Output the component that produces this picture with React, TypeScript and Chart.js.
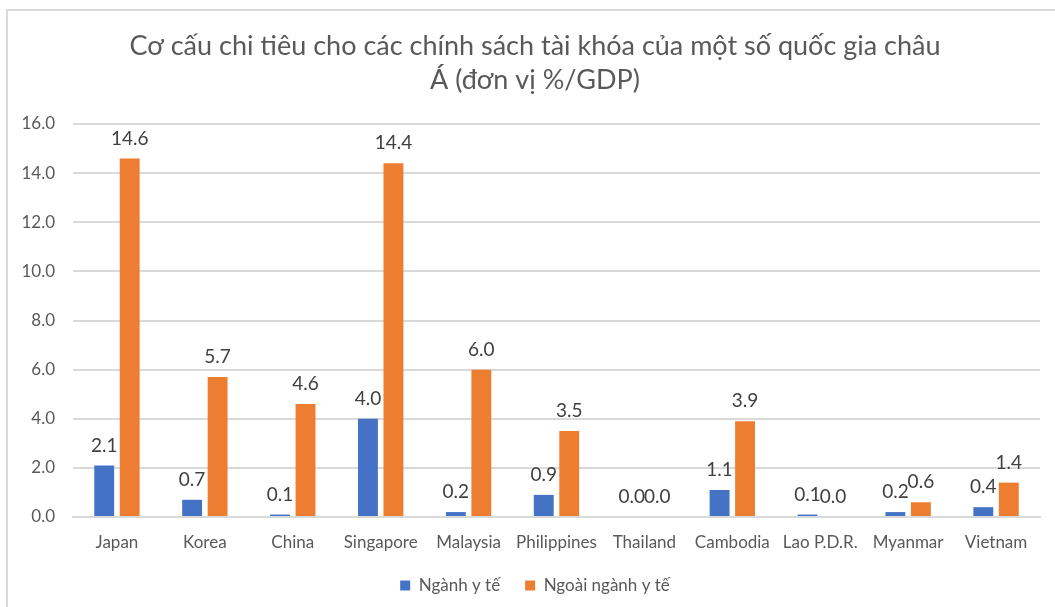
import React, { useEffect, useRef } from "react";
import { Chart, registerables } from "chart.js";

Chart.register(...registerables);

const categories = [
  "Japan",
  "Korea",
  "China",
  "Singapore",
  "Malaysia",
  "Philippines",
  "Thailand",
  "Cambodia",
  "Lao P.D.R.",
  "Myanmar",
  "Vietnam",
];
const healthValues = [2.1, 0.7, 0.1, 4.0, 0.2, 0.9, 0.0, 1.1, 0.1, 0.2, 0.4];
const nonHealthValues = [14.6, 5.7, 4.6, 14.4, 6.0, 3.5, 0.0, 3.9, 0.0, 0.6, 1.4];
const seriesNames = ["Ngành y tế", "Ngoài ngành y tế"];
const titleLines = [
  "Cơ cấu chi tiêu cho các chính sách tài khóa của một số quốc gia châu",
  "Á (đơn vị %/GDP)",
];
const yMin = 0;
const yMax = 16;
const yStep = 2;

const FONT = "Lato, 'Noto Sans', sans-serif";
const TICK_SIZE = 17;

const valueLabels = {
  id: "valueLabels",
  afterDatasetsDraw(chart: any) {
    const ctx = chart.ctx;
    ctx.save();
    ctx.font = `19px ${FONT}`;
    ctx.fillStyle = "#404040";
    ctx.textAlign = "center";
    ctx.textBaseline = "middle";
    chart.data.datasets.forEach((ds: any, di: number) => {
      const meta = chart.getDatasetMeta(di);
      meta.data.forEach((el: any, i: number) => {
        const v = ds.data[i];
        ctx.fillText(Number(v).toFixed(1), el.x, el.y - 20);
      });
    });
    ctx.restore();
  },
};

export default function App() {
  const ref = useRef<HTMLCanvasElement | null>(null);
  useEffect(() => {
    if (!ref.current) return;
    const mctx = document.createElement("canvas").getContext("2d")!;
    mctx.font = `${TICK_SIZE}px ${FONT}`;
    let widest = 0;
    for (let v = yMin; v <= yMax; v += yStep) {
      widest = Math.max(widest, mctx.measureText(v.toFixed(1)).width);
    }
    const yAxisWidth = 43;
    const labelRight = 55;
    const chartLeft = 73;
    const chart = new Chart(ref.current, {
      type: "bar",
      data: {
        labels: categories,
        datasets: [
          {
            label: seriesNames[0],
            data: healthValues,
            backgroundColor: "#4472C4",
            categoryPercentage: 0.58,
            barPercentage: 0.78,
          },
          {
            label: seriesNames[1],
            data: nonHealthValues,
            backgroundColor: "#ED7D31",
            categoryPercentage: 0.58,
            barPercentage: 0.78,
          },
        ],
      },
      options: {
        responsive: false,
        animation: false,
        layout: { padding: { left: chartLeft - yAxisWidth, right: 15, top: 0, bottom: 3 } },
        plugins: {
          title: {
            display: true,
            text: titleLines,
            color: "#595959",
            font: { family: FONT, size: 27, weight: "normal", lineHeight: 34 / 27 },
            padding: { top: 29, bottom: 27 },
          },
          legend: {
            position: "bottom",
            labels: {
              boxWidth: 10,
              boxHeight: 10,
              color: "#595959",
              font: { family: FONT, size: 17 },
              padding: 25,
            },
          },
          tooltip: { enabled: false },
        },
        scales: {
          x: {
            grid: { display: false, drawTicks: false },
            border: { display: true, color: "#d9d9d9", width: 2 },
            ticks: {
              color: "#595959",
              font: { family: FONT, size: TICK_SIZE },
              padding: 15,
              maxRotation: 0,
              autoSkip: false,
            },
            afterFit: (s: any) => {
              s.height = 35;
            },
          },
          y: {
            min: yMin,
            max: yMax,
            grid: { color: "#d9d9d9", lineWidth: 2, drawTicks: false },
            border: { display: false },
            ticks: {
              stepSize: yStep,
              color: "#595959",
              font: { family: FONT, size: TICK_SIZE },
              mirror: true,
              crossAlign: "far",
              padding: labelRight - chartLeft - widest,
              callback: (v: any) => Number(v).toFixed(1),
            },
            afterFit: (s: any) => {
              s.width = yAxisWidth;
            },
          },
        },
      },
      plugins: [valueLabels],
    });
    return () => chart.destroy();
  }, []);
  return (
    <div
      style={{
        position: "fixed",
        left: 0,
        top: 0,
        width: 1055,
        height: 607,
        overflow: "hidden",
        background: "#fff",
      }}
    >
      <div
        style={{
          position: "absolute",
          left: 6,
          top: 9,
          width: 1060,
          height: 610,
          borderLeft: "2px solid #d9d9d9",
          borderTop: "2px solid #d9d9d9",
        }}
      />
      <canvas
        ref={ref}
        width={1055}
        height={607}
        style={{ position: "absolute", left: 0, top: 0 }}
      />
    </div>
  );
}
